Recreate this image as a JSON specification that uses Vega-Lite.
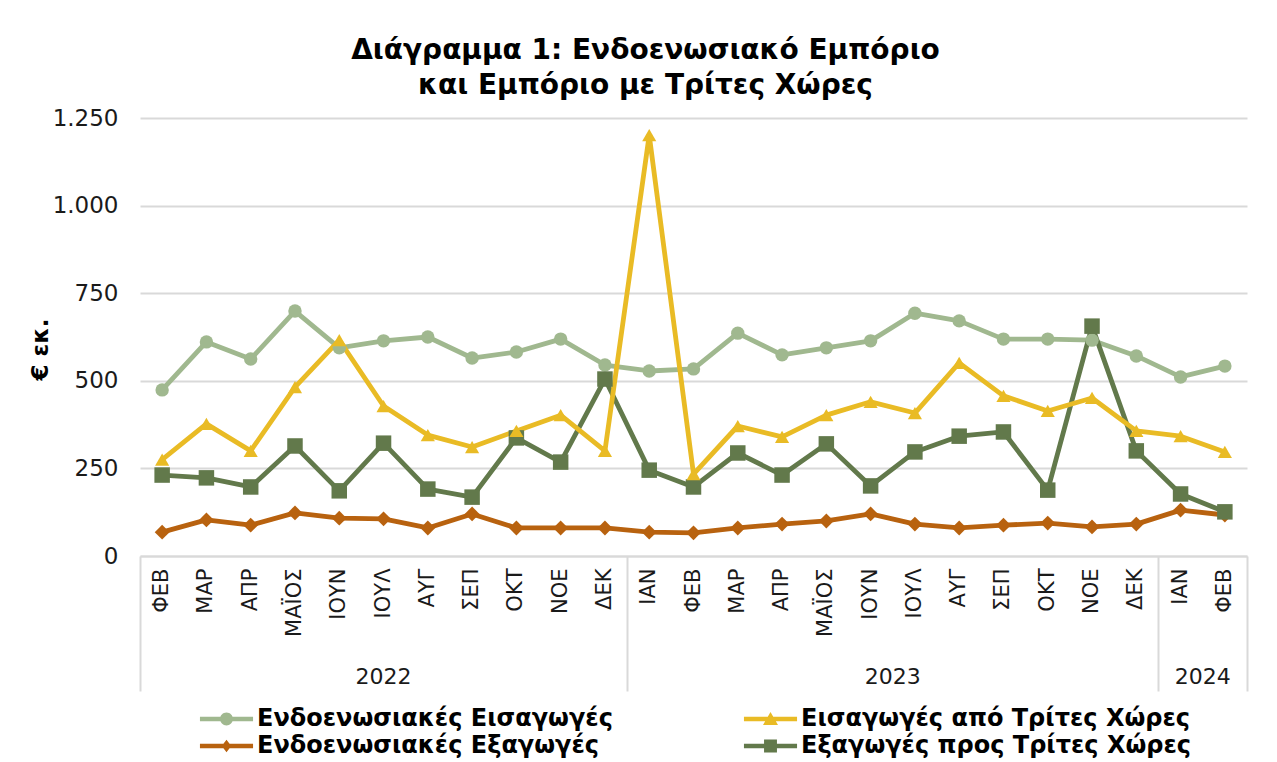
{
  "$schema": "https://vega.github.io/schema/vega-lite/v6.json",
  "width": 1107,
  "height": 438,
  "autosize": {"type": "none"},
  "padding": {"left": 140, "top": 118, "right": 30, "bottom": 206},
  "background": "white",
  "config": {"view": {"stroke": null}, "font": "DejaVu Sans"},
  "title": {
    "text": ["Διάγραμμα 1: Ενδοενωσιακό Εμπόριο", "και Εμπόριο με Τρίτες Χώρες"],
    "fontSize": 28,
    "fontWeight": "bold",
    "font": "DejaVu Sans",
    "color": "#000000",
    "anchor": "middle",
    "dx": -48,
    "offset": 7,
    "lineHeight": 35
  },
  "data": {
    "values": [
      {"key": "2022-02|ΦΕΒ", "Ενδοενωσιακές Εισαγωγές": 474, "Εισαγωγές από Τρίτες Χώρες": 275, "Ενδοενωσιακές Εξαγωγές": 68, "Εξαγωγές προς Τρίτες Χώρες": 231},
      {"key": "2022-03|ΜΑΡ", "Ενδοενωσιακές Εισαγωγές": 611, "Εισαγωγές από Τρίτες Χώρες": 377, "Ενδοενωσιακές Εξαγωγές": 103, "Εξαγωγές προς Τρίτες Χώρες": 223},
      {"key": "2022-04|ΑΠΡ", "Ενδοενωσιακές Εισαγωγές": 562, "Εισαγωγές από Τρίτες Χώρες": 300, "Ενδοενωσιακές Εξαγωγές": 88, "Εξαγωγές προς Τρίτες Χώρες": 197},
      {"key": "2022-05|ΜΑΪΟΣ", "Ενδοενωσιακές Εισαγωγές": 699, "Εισαγωγές από Τρίτες Χώρες": 482, "Ενδοενωσιακές Εξαγωγές": 123, "Εξαγωγές προς Τρίτες Χώρες": 314},
      {"key": "2022-06|ΙΟΥΝ", "Ενδοενωσιακές Εισαγωγές": 594, "Εισαγωγές από Τρίτες Χώρες": 616, "Ενδοενωσιακές Εξαγωγές": 108, "Εξαγωγές προς Τρίτες Χώρες": 186},
      {"key": "2022-07|ΙΟΥΛ", "Ενδοενωσιακές Εισαγωγές": 614, "Εισαγωγές από Τρίτες Χώρες": 428, "Ενδοενωσιακές Εξαγωγές": 106, "Εξαγωγές προς Τρίτες Χώρες": 322},
      {"key": "2022-08|ΑΥΓ", "Ενδοενωσιακές Εισαγωγές": 625, "Εισαγωγές από Τρίτες Χώρες": 345, "Ενδοενωσιακές Εξαγωγές": 80, "Εξαγωγές προς Τρίτες Χώρες": 191},
      {"key": "2022-09|ΣΕΠ", "Ενδοενωσιακές Εισαγωγές": 565, "Εισαγωγές από Τρίτες Χώρες": 311, "Ενδοενωσιακές Εξαγωγές": 120, "Εξαγωγές προς Τρίτες Χώρες": 168},
      {"key": "2022-10|ΟΚΤ", "Ενδοενωσιακές Εισαγωγές": 582, "Εισαγωγές από Τρίτες Χώρες": 357, "Ενδοενωσιακές Εξαγωγές": 80, "Εξαγωγές προς Τρίτες Χώρες": 337},
      {"key": "2022-11|ΝΟΕ", "Ενδοενωσιακές Εισαγωγές": 619, "Εισαγωγές από Τρίτες Χώρες": 402, "Ενδοενωσιακές Εξαγωγές": 80, "Εξαγωγές προς Τρίτες Χώρες": 268},
      {"key": "2022-12|ΔΕΚ", "Ενδοενωσιακές Εισαγωγές": 545, "Εισαγωγές από Τρίτες Χώρες": 300, "Ενδοενωσιακές Εξαγωγές": 80, "Εξαγωγές προς Τρίτες Χώρες": 505},
      {"key": "2023-01|ΙΑΝ", "Ενδοενωσιακές Εισαγωγές": 528, "Εισαγωγές από Τρίτες Χώρες": 1201, "Ενδοενωσιακές Εξαγωγές": 68, "Εξαγωγές προς Τρίτες Χώρες": 245},
      {"key": "2023-02|ΦΕΒ", "Ενδοενωσιακές Εισαγωγές": 534, "Εισαγωγές από Τρίτες Χώρες": 234, "Ενδοενωσιακές Εξαγωγές": 66, "Εξαγωγές προς Τρίτες Χώρες": 197},
      {"key": "2023-03|ΜΑΡ", "Ενδοενωσιακές Εισαγωγές": 636, "Εισαγωγές από Τρίτες Χώρες": 371, "Ενδοενωσιακές Εξαγωγές": 80, "Εξαγωγές προς Τρίτες Χώρες": 294},
      {"key": "2023-04|ΑΠΡ", "Ενδοενωσιακές Εισαγωγές": 574, "Εισαγωγές από Τρίτες Χώρες": 340, "Ενδοενωσιακές Εξαγωγές": 91, "Εξαγωγές προς Τρίτες Χώρες": 231},
      {"key": "2023-05|ΜΑΪΟΣ", "Ενδοενωσιακές Εισαγωγές": 594, "Εισαγωγές από Τρίτες Χώρες": 402, "Ενδοενωσιακές Εξαγωγές": 100, "Εξαγωγές προς Τρίτες Χώρες": 320},
      {"key": "2023-06|ΙΟΥΝ", "Ενδοενωσιακές Εισαγωγές": 614, "Εισαγωγές από Τρίτες Χώρες": 440, "Ενδοενωσιακές Εξαγωγές": 120, "Εξαγωγές προς Τρίτες Χώρες": 200},
      {"key": "2023-07|ΙΟΥΛ", "Ενδοενωσιακές Εισαγωγές": 693, "Εισαγωγές από Τρίτες Χώρες": 408, "Ενδοενωσιακές Εξαγωγές": 91, "Εξαγωγές προς Τρίτες Χώρες": 297},
      {"key": "2023-08|ΑΥΓ", "Ενδοενωσιακές Εισαγωγές": 671, "Εισαγωγές από Τρίτες Χώρες": 551, "Ενδοενωσιακές Εξαγωγές": 80, "Εξαγωγές προς Τρίτες Χώρες": 342},
      {"key": "2023-09|ΣΕΠ", "Ενδοενωσιακές Εισαγωγές": 619, "Εισαγωγές από Τρίτες Χώρες": 457, "Ενδοενωσιακές Εξαγωγές": 88, "Εξαγωγές προς Τρίτες Χώρες": 354},
      {"key": "2023-10|ΟΚΤ", "Ενδοενωσιακές Εισαγωγές": 619, "Εισαγωγές από Τρίτες Χώρες": 414, "Ενδοενωσιακές Εξαγωγές": 94, "Εξαγωγές προς Τρίτες Χώρες": 188},
      {"key": "2023-11|ΝΟΕ", "Ενδοενωσιακές Εισαγωγές": 616, "Εισαγωγές από Τρίτες Χώρες": 451, "Ενδοενωσιακές Εξαγωγές": 83, "Εξαγωγές προς Τρίτες Χώρες": 656},
      {"key": "2023-12|ΔΕΚ", "Ενδοενωσιακές Εισαγωγές": 571, "Εισαγωγές από Τρίτες Χώρες": 357, "Ενδοενωσιακές Εξαγωγές": 91, "Εξαγωγές προς Τρίτες Χώρες": 300},
      {"key": "2024-01|ΙΑΝ", "Ενδοενωσιακές Εισαγωγές": 511, "Εισαγωγές από Τρίτες Χώρες": 342, "Ενδοενωσιακές Εξαγωγές": 131, "Εξαγωγές προς Τρίτες Χώρες": 177},
      {"key": "2024-02|ΦΕΒ", "Ενδοενωσιακές Εισαγωγές": 542, "Εισαγωγές από Τρίτες Χώρες": 297, "Ενδοενωσιακές Εξαγωγές": 117, "Εξαγωγές προς Τρίτες Χώρες": 126}
    ]
  },
  "transform": [
    {"fold": ["Ενδοενωσιακές Εισαγωγές", "Ενδοενωσιακές Εξαγωγές", "Εξαγωγές προς Τρίτες Χώρες", "Εισαγωγές από Τρίτες Χώρες"], "as": ["series", "value"]}
  ],
  "layer": [
    {
      "mark": {"type": "line", "strokeWidth": 4.8, "strokeJoin": "round"},
      "encoding": {
        "x": {
          "field": "key", "type": "ordinal", "sort": null,
          "scale": {"type": "band", "paddingInner": 0, "paddingOuter": 0},
          "axis": {
            "orient": "bottom", "title": null, "ticks": false, "grid": false,
            "labelAngle": 270, "labelFontSize": 21, "labelColor": "#1a1a1a", "labelPadding": 12,
            "domainColor": "#d9d9d9", "domainWidth": 2,
            "labelExpr": "split(datum.label, '|')[1]"
          }
        },
        "y": {
          "field": "value", "type": "quantitative",
          "scale": {"domain": [0, 1250], "nice": false},
          "axis": {
            "title": "€ εκ.", "titleFontSize": 23, "titleFontWeight": "bold", "titleColor": "#000000", "titlePadding": 0, "titleY": 231,
            "values": [0, 250, 500, 750, 1000, 1250],
            "labelExpr": "replace(format(datum.value, ','), ',', '.')",
            "labelFontSize": 23, "labelColor": "#1a1a1a", "labelPadding": 22,
            "ticks": false, "domain": false, "grid": true, "gridColor": "#d9d9d9", "gridWidth": 2
          }
        },
        "color": {
          "field": "series", "type": "nominal",
          "scale": {"domain": ["Ενδοενωσιακές Εισαγωγές", "Εισαγωγές από Τρίτες Χώρες", "Ενδοενωσιακές Εξαγωγές", "Εξαγωγές προς Τρίτες Χώρες"], "range": ["#A0B88F", "#E9BB25", "#B8620F", "#62794B"]},
          "legend": null
        }
      }
    },
    {
      "mark": {"type": "point", "filled": true, "opacity": 1},
      "encoding": {
        "x": {
          "field": "key", "type": "ordinal", "sort": null,
          "axis": {
            "orient": "bottom", "title": null, "grid": false, "domain": false,
            "values": ["2022-02|ΦΕΒ", "2022-12|ΔΕΚ", "2023-12|ΔΕΚ", "2024-02|ΦΕΒ"],
            "bandPosition": 1, "tickExtra": true,
            "tickSize": 135, "tickColor": "#d9d9d9", "tickWidth": 2,
            "tickOpacity": {"condition": {"test": "datum.value === '2022-02|ΦΕΒ'", "value": 0}, "value": 1},
            "labelAngle": 0, "labelFontSize": 22, "labelColor": "#1a1a1a", "labelPadding": -25,
            "labelAlign": "center", "labelBaseline": "top",
            "labelExpr": "datum.value && datum.value !== '2022-02|ΦΕΒ' ? slice(datum.value, 0, 4) : ''",
            "labelOffset": {"condition": [{"test": "datum.value === '2022-12|ΔΕΚ'", "value": -221.4}, {"test": "datum.value === '2023-12|ΔΕΚ'", "value": -243.6}], "value": -22.1}
          }
        },
        "y": {"field": "value", "type": "quantitative"},
        "color": {
          "field": "series", "type": "nominal",
          "scale": {"domain": ["Ενδοενωσιακές Εισαγωγές", "Εισαγωγές από Τρίτες Χώρες", "Ενδοενωσιακές Εξαγωγές", "Εξαγωγές προς Τρίτες Χώρες"], "range": ["#A0B88F", "#E9BB25", "#B8620F", "#62794B"]},
          "legend": null
        },
        "shape": {
          "field": "series", "type": "nominal",
          "scale": {"domain": ["Ενδοενωσιακές Εισαγωγές", "Εισαγωγές από Τρίτες Χώρες", "Ενδοενωσιακές Εξαγωγές", "Εξαγωγές προς Τρίτες Χώρες"], "range": ["circle", "triangle-up", "diamond", "square"]},
          "legend": null
        },
        "size": {
          "field": "series", "type": "nominal",
          "scale": {"domain": ["Ενδοενωσιακές Εισαγωγές", "Εισαγωγές από Τρίτες Χώρες", "Ενδοενωσιακές Εξαγωγές", "Εξαγωγές προς Τρίτες Χώρες"], "range": [180, 240, 130, 180]},
          "legend": null
        }
      }
    },
    {
      "transform": [{"filter": "datum.value < 0"}],
      "mark": {"type": "point", "filled": true},
      "encoding": {
        "color": {
          "field": "series", "type": "nominal",
          "scale": {"domain": ["Ενδοενωσιακές Εισαγωγές", "Ενδοενωσιακές Εξαγωγές", "Εισαγωγές από Τρίτες Χώρες", "Εξαγωγές προς Τρίτες Χώρες"], "range": ["#A0B88F", "#B8620F", "#E9BB25", "#62794B"]},
          "legend": {
            "title": null, "orient": "none", "legendX": 71.5, "legendY": 586, "columns": 2, "columnPadding": 130, "rowPadding": 0, "padding": 0,
            "symbolSize": 900, "symbolStrokeWidth": 0, "symbolOpacity": 1,
            "labelFontSize": 24, "labelFontWeight": "bold", "labelColor": "#000000", "labelOffset": 15.5, "labelLimit": 700
          }
        },
        "shape": {
          "field": "series", "type": "nominal",
          "scale": {"domain": ["Ενδοενωσιακές Εισαγωγές", "Ενδοενωσιακές Εξαγωγές", "Εισαγωγές από Τρίτες Χώρες", "Εξαγωγές προς Τρίτες Χώρες"], "range": [
            "M-1.77,-0.15H1.77V0.15H-1.77Z M-0.43,0A0.43,0.43 0 1,1 0.43,0A0.43,0.43 0 1,1 -0.43,0Z",
            "M-1.77,-0.15H1.77V0.15H-1.77Z M0,-0.42L0.32,0L0,0.42L-0.32,0Z",
            "M-1.77,-0.15H1.77V0.15H-1.77Z M0,-0.47L0.5,0.4L-0.5,0.4Z",
            "M-1.77,-0.15H1.77V0.15H-1.77Z M-0.43,-0.43H0.43V0.43H-0.43Z"
          ]},
          "legend": {
            "title": null, "orient": "none", "legendX": 71.5, "legendY": 586, "columns": 2, "columnPadding": 130, "rowPadding": 0, "padding": 0,
            "symbolSize": 900, "symbolStrokeWidth": 0, "symbolOpacity": 1,
            "labelFontSize": 24, "labelFontWeight": "bold", "labelColor": "#000000", "labelOffset": 15.5, "labelLimit": 700
          }
        }
      }
    }
  ],
  "resolve": {"scale": {"shape": "independent", "color": "independent", "size": "independent"}, "axis": {"x": "independent"}}
}
